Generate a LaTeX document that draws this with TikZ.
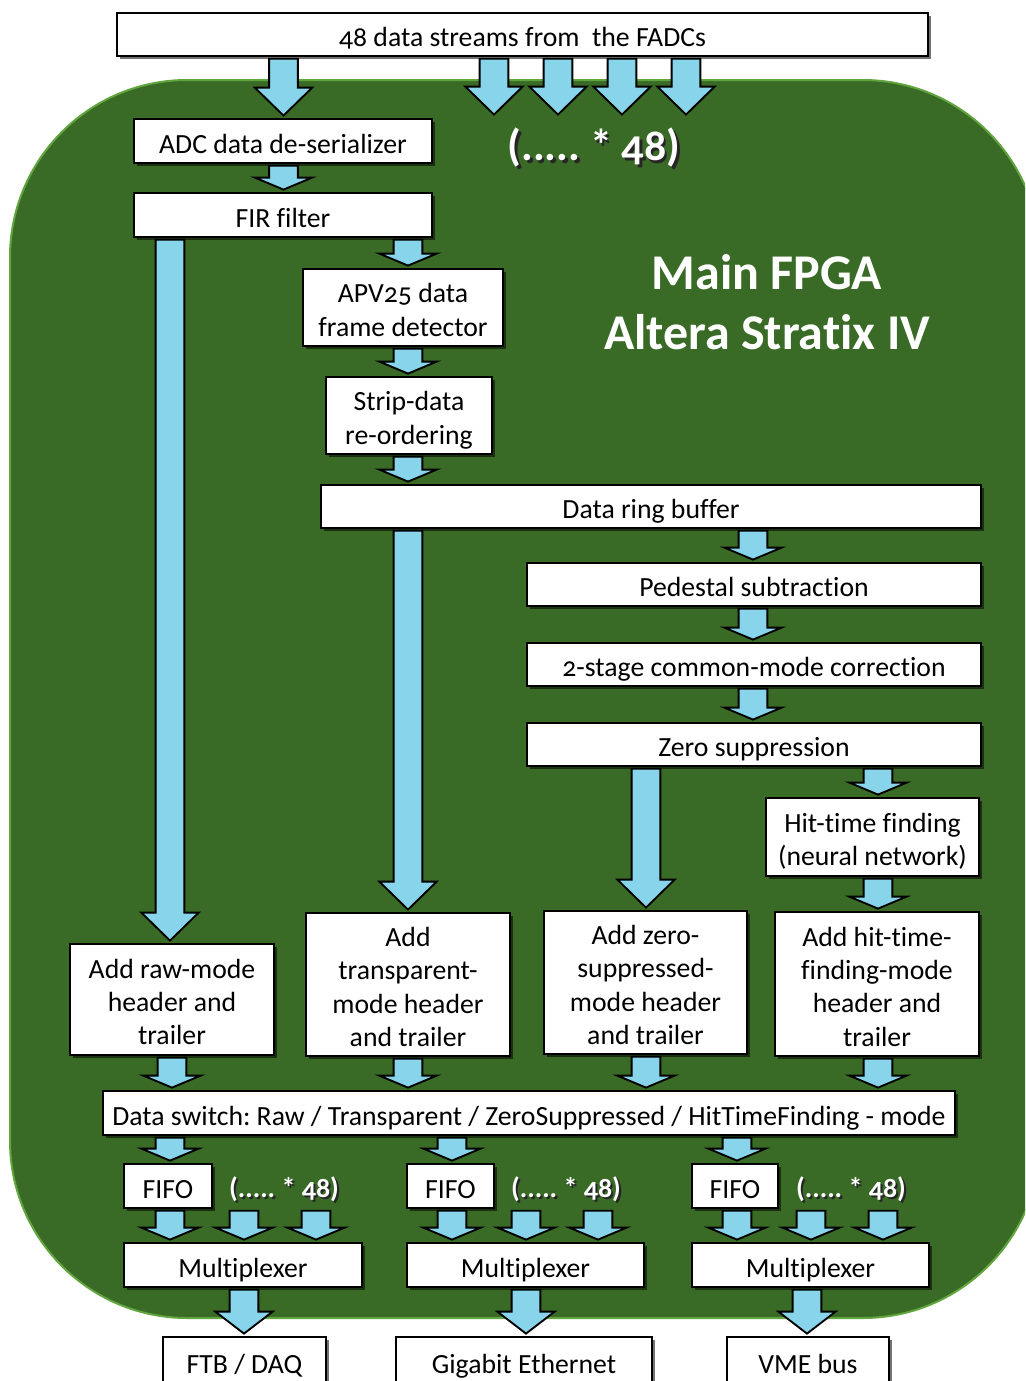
\documentclass[tikz,border=0pt]{standalone}
\usepackage{fontspec}
\setmainfont{Carlito}[Numbers=OldStyle, Ligatures=NoCommon]
\usetikzlibrary{calc,shadows}
\definecolor{fpgagreen}{RGB}{58,107,38}
\definecolor{fpgaborder}{RGB}{96,165,62}
\definecolor{arrowblue}{RGB}{136,212,234}
\AtBeginDocument{\frenchspacing}
\newcommand\shtext[2]{\makebox[0pt][l]{\raisebox{-#2}{\hspace{#2}\textcolor{black!85}{#1}}}\textcolor{white}{#1}}
\newcommand\lines[1]{\raisebox{-4.1pt}[\height][\depth]{\begin{tabular}{@{}c@{}}\rule{0pt}{16pt}#1\rule[-5pt]{0pt}{0pt}\end{tabular}}}
\tikzset{
  box/.style={draw=black, fill=white, line width=1.5pt, inner sep=0pt,
    font=\fontsize{20.8}{25}\selectfont,
    drop shadow={shadow xshift=2.4pt, shadow yshift=-2.4pt, opacity=0.55, fill=black}},
  blockarrow/.style={draw=black, fill=arrowblue, line width=1.4pt, line join=miter},
  mult/.style={font=\fontsize{33}{38}\bfseries\selectfont, inner sep=0pt},
  multsmall/.style={font=\fontsize{21}{25}\bfseries\selectfont, inner sep=0pt},
  title/.style={font=\fontsize{37.5}{45}\bfseries\selectfont, text=white, align=center, inner sep=0pt}
}
% box: name, x1, y1, x2, y2, text  (pixel units)
\newcommand\blk[6]{\node[box, minimum width={(#4-#2)*0.75pt}, minimum height={(#5-#3)*0.75pt}] (#1) at ({(#2+#4)/2},{(#3+#5)/2}) {\lines{#6}};}
% block arrow: x (px), top anchor, bottom anchor, head length (px)
\newcommand\barrow[4]{%
  \draw[blockarrow] let \p1=(#2), \p2=(#3), \n1={#1*0.75pt}, \n2={#4*0.75pt} in
   (\n1-10.8pt,\y1-1.3pt) -- (\n1+10.8pt,\y1-1.3pt) -- (\n1+10.8pt,\y2+1.8pt+\n2)
   -- (\n1+21.5pt,\y2+1.8pt+\n2) -- (\n1,\y2+1.8pt) -- (\n1-21.5pt,\y2+1.8pt+\n2)
   -- (\n1-10.8pt,\y2+1.8pt+\n2) -- cycle;}
\begin{document}
\begin{tikzpicture}[x=0.75pt,y=-0.75pt]
\clip (0,0) rectangle (1025,1381);
\fill[white] (0,0) rectangle (1025,1381);
% FPGA region
\draw[fill=fpgagreen, draw=fpgaborder, line width=1.5pt, rounded corners=133pt] (10,80) rectangle (1040,1318);
\node[title] (fpga) at (767,302) {Main FPGA\\Altera Stratix IV};

% boxes
\blk{top}{117}{13}{928}{56}{48 data streams from\ \ the FADCs}
\blk{adc}{134}{119}{432}{163}{ADC data de-serializer}
\blk{fir}{134}{193}{432}{237}{FIR filter}
\blk{apv}{303}{269}{503}{346}{APV25 data\\frame detector}
\blk{strip}{326}{377}{492}{454}{Strip-data\\re-ordering}
\blk{ring}{321}{485}{981}{528}{Data ring buffer}
\blk{ped}{527}{563}{981}{606}{Pedestal subtraction}
\blk{cm}{527}{643}{981}{686}{2-stage common-mode correction}
\blk{zs}{527}{723}{981}{766}{Zero suppression}
\blk{hit}{766}{798}{979}{876}{Hit-time finding\\(neural network)}
\blk{raw}{70}{944}{274}{1055}{Add raw-mode\\header and\\trailer}
\blk{trans}{306}{913}{510}{1056}{Add\\transparent-\\mode header\\and trailer}
\blk{zsh}{544}{911}{747}{1054}{Add zero-\\suppressed-\\mode header\\and trailer}
\blk{hth}{775}{912}{979}{1056}{Add hit-time-\\finding-mode\\header and\\trailer}
\blk{sw}{103}{1091}{955}{1135}{Data switch: Raw / Transparent / ZeroSuppressed / HitTimeFinding - mode}
\blk{fifo1}{124}{1164}{212}{1208}{FIFO}
\blk{fifo2}{407}{1164}{494}{1208}{FIFO}
\blk{fifo3}{692}{1164}{778}{1208}{FIFO}
\blk{mux1}{124}{1243}{362}{1287}{Multiplexer}
\blk{mux2}{407}{1243}{644}{1287}{Multiplexer}
\blk{mux3}{692}{1243}{929}{1287}{Multiplexer}
\blk{ftb}{163}{1337}{326}{1386}{FTB / DAQ}
\blk{eth}{396}{1337}{652}{1386}{Gigabit Ethernet}
\blk{vme}{727}{1337}{889}{1386}{VME bus}

% multiplicity labels
\node[mult] (m0) at (594,149) {\shtext{(..... * 48)}{2pt}};
\node[multsmall] (m1) at (284,1190) {\shtext{(..... * 48)}{1.6pt}};
\node[multsmall] (m2) at (566,1190) {\shtext{(..... * 48)}{1.6pt}};
\node[multsmall] (m3) at (851,1190) {\shtext{(..... * 48)}{1.6pt}};

% free ends of the top arrows
\coordinate (in2) at (494,117);
\coordinate (in3) at (558,117);
\coordinate (in4) at (622,117);
\coordinate (in5) at (686,117);

% arrows
\barrow{283.5}{top.south}{adc.north}{28}
\barrow{494}{top.south}{in2}{28}
\barrow{558}{top.south}{in3}{28}
\barrow{622}{top.south}{in4}{28}
\barrow{686}{top.south}{in5}{28}
\barrow{283.5}{adc.south}{fir.north}{12}
\barrow{170}{fir.south}{raw.north}{28}
\barrow{408}{fir.south}{apv.north}{12}
\barrow{408}{apv.south}{strip.north}{12}
\barrow{408}{strip.south}{ring.north}{12}
\barrow{408}{ring.south}{trans.north}{28}
\barrow{753}{ring.south}{ped.north}{12}
\barrow{753}{ped.south}{cm.north}{12}
\barrow{753}{cm.south}{zs.north}{12}
\barrow{646}{zs.south}{zsh.north}{28}
\barrow{878}{zs.south}{hit.north}{12}
\barrow{878}{hit.south}{hth.north}{12}
\barrow{172}{raw.south}{sw.north}{12}
\barrow{408}{trans.south}{sw.north}{12}
\barrow{646}{zsh.south}{sw.north}{12}
\barrow{878}{hth.south}{sw.north}{12}
\barrow{170}{sw.south}{fifo1.north}{12}
\barrow{452}{sw.south}{fifo2.north}{12}
\barrow{737}{sw.south}{fifo3.north}{12}
\barrow{170}{fifo1.south}{mux1.north}{12}
\barrow{244}{fifo1.south}{mux1.north}{12}
\barrow{316}{fifo1.south}{mux1.north}{12}
\barrow{452}{fifo2.south}{mux2.north}{12}
\barrow{526}{fifo2.south}{mux2.north}{12}
\barrow{598}{fifo2.south}{mux2.north}{12}
\barrow{737}{fifo3.south}{mux3.north}{12}
\barrow{811}{fifo3.south}{mux3.north}{12}
\barrow{883}{fifo3.south}{mux3.north}{12}
\barrow{244}{mux1.south}{ftb.north}{22}
\barrow{526}{mux2.south}{eth.north}{22}
\barrow{807}{mux3.south}{vme.north}{22}
\end{tikzpicture}
\end{document}
